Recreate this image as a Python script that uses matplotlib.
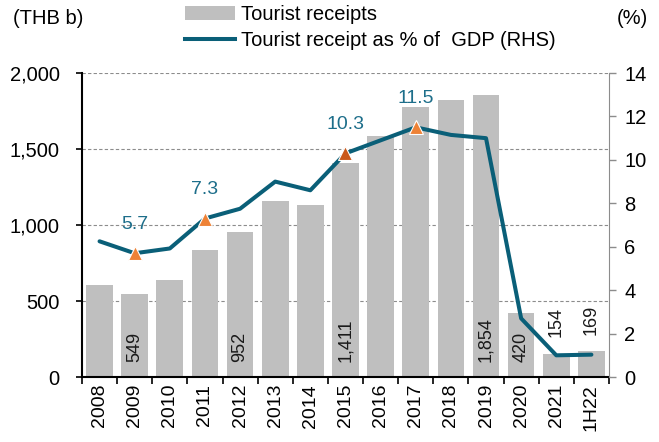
import numpy as np
import matplotlib.pyplot as plt
from matplotlib.lines import Line2D
from matplotlib.patches import Patch

plt.rcParams["font.family"] = ["Liberation Sans", "DejaVu Sans"]

years = ["2008", "2009", "2010", "2011", "2012", "2013", "2014", "2015",
         "2016", "2017", "2018", "2019", "2020", "2021", "1H22"]
receipts = [603, 549, 636, 833, 952, 1161, 1134, 1411,
            1587, 1777, 1823, 1854, 420, 154, 169]
share_gdp = [6.25, 5.7, 5.92, 7.3, 7.75, 9.0, 8.6, 10.3,
             10.9, 11.5, 11.15, 11.0, 2.7, 1.0, 1.03]

# bars with a printed value, and line points flagged with a triangle
bar_labels = ["2009", "2012", "2015", "2019", "2020", "2021", "1H22"]
line_labels = ["2009", "2011", "2015", "2017"]

BAR = "#BFBFBF"
LINE = "#0A5F78"
LABEL = "#1D6E8A"
MARK = "#EE8236"
FS = 14.5

fig = plt.figure(figsize=(6.59, 4.42), dpi=100)
ax = fig.add_axes([0.1244, 0.147, 0.7997, 0.6878])
ax2 = ax.twinx()

x = np.arange(len(years))
ax.bar(x, receipts, width=0.76, color=BAR, zorder=2)
ax.set_xlim(-0.5, len(years) - 0.5)
ax.set_ylim(0, 2000)
ax.set_yticks(np.arange(0, 2001, 500))
ax.set_yticklabels([f"{v:,}" for v in range(0, 2001, 500)])
ax.yaxis.grid(True, linestyle=(0, (3, 2)), color="#8C8C8C", linewidth=0.8)
ax.set_axisbelow(True)

ax.set_xticks(x)
ax.set_xticklabels(years, rotation=90)
ax.set_xticks(np.arange(-0.5, len(years), 1), minor=True)
ax.tick_params(axis="x", which="major", length=0, pad=5, labelsize=14)
ax.tick_params(axis="x", which="minor", length=5, width=1.2, direction="out")
ax.tick_params(axis="y", length=4, width=1.2, labelsize=FS, pad=12)

for side in ["top", "right"]:
    ax.spines[side].set_visible(False)
ax.spines["left"].set_linewidth(1.5)
ax.spines["bottom"].set_linewidth(1.5)

for i, yr in enumerate(years):
    if yr in bar_labels:
        v = receipts[i]
        ypos = v + 110 if v < 300 else 98
        ax.text(i, ypos, f"{v:,}", rotation=90, ha="center", va="bottom",
                fontsize=13, color="#1A1A1A", zorder=4)

ax2.plot(x, share_gdp, color=LINE, linewidth=2.9, zorder=3,
         solid_joinstyle="round", solid_capstyle="round")
for i, yr in enumerate(years):
    if yr in line_labels:
        c = "#C9581A" if yr == "2015" else MARK
        ax2.plot(i, share_gdp[i], marker="^", markersize=10.5, color=c,
                 markeredgecolor="white", markeredgewidth=0.8, zorder=5)
        ax2.annotate(f"{share_gdp[i]:.1f}", (i, share_gdp[i]),
                     xytext=(0, 21), textcoords="offset points",
                     ha="center", va="center", fontsize=14, color=LABEL)

ax2.set_ylim(0, 14)
ax2.set_yticks(np.arange(0, 15, 2))
ax2.tick_params(axis="y", length=5, width=1, color="#8C8C8C", labelsize=FS,
                pad=6)
for side in ["top", "left", "bottom"]:
    ax2.spines[side].set_visible(False)
ax2.spines["right"].set_color("#8C8C8C")

fig.text(13 / 659, 1 - 18 / 442, "(THB b)", fontsize=FS, va="center")
fig.text(648 / 659, 1 - 18 / 442, "(%)", fontsize=FS, va="center", ha="right")

handles = [Patch(facecolor=BAR, edgecolor="none"),
           Line2D([0], [0], color=LINE, linewidth=2.9)]
fig.legend(handles, ["Tourist receipts", "Tourist receipt as % of  GDP (RHS)"],
           loc="upper left", bbox_to_anchor=(185 / 659, 1 - 5 / 442),
           frameon=False, fontsize=FS, handlelength=2.5, handletextpad=0.3,
           labelspacing=0.35, borderpad=0, borderaxespad=0)

fig.savefig("out.png", dpi=100)
